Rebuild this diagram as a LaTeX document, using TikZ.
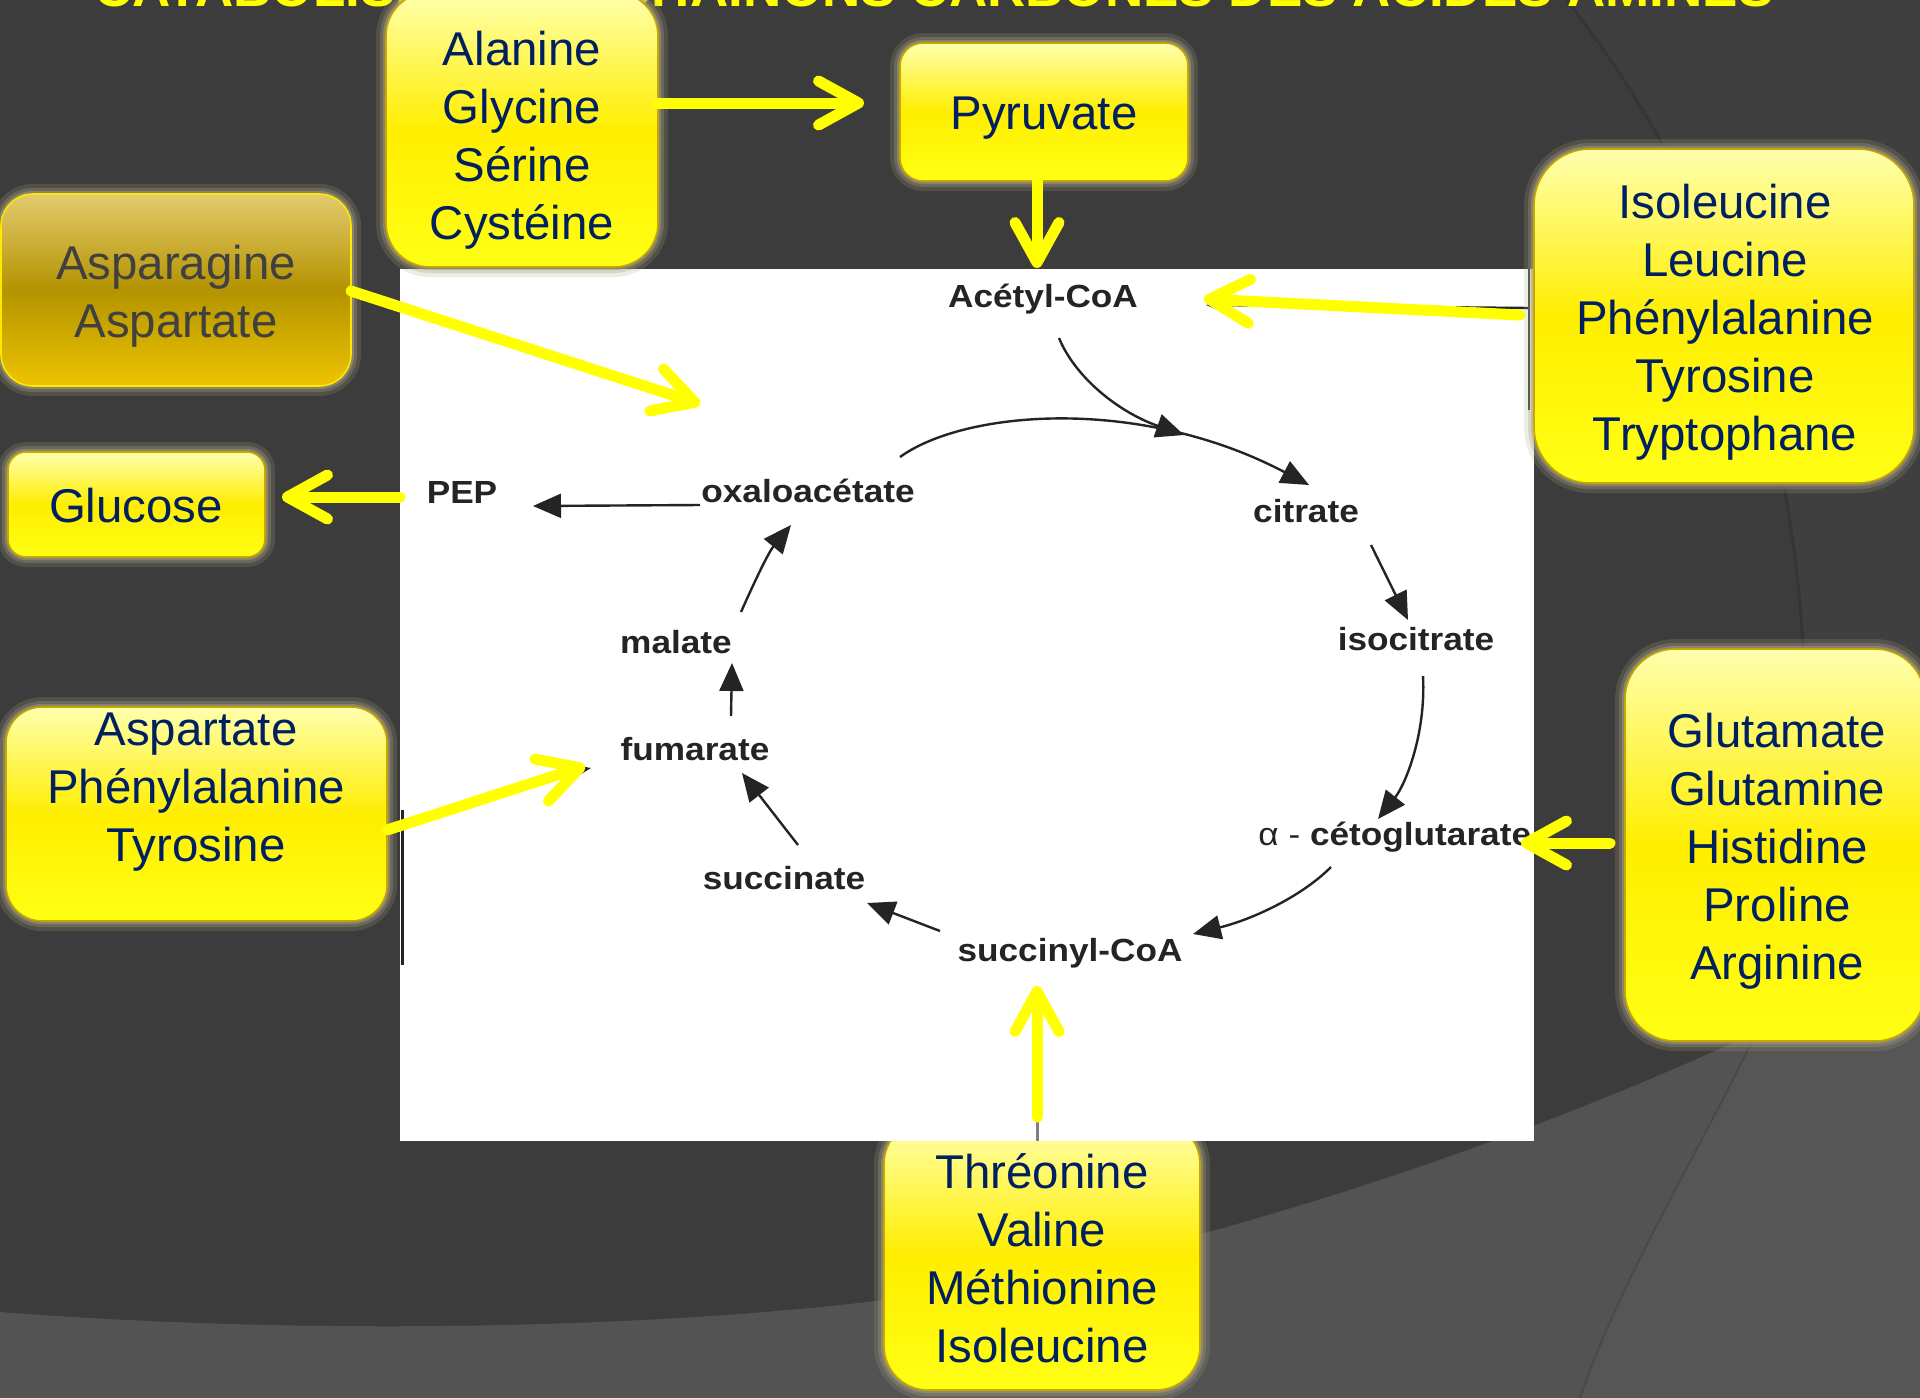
\documentclass[tikz,border=0pt]{standalone}
\usepackage{fontspec}
\setmainfont{Liberation Sans}
\newfontfamily\cycfont[FakeStretch=1.1]{Liberation Sans}
\usetikzlibrary{arrows.meta}
\definecolor{bgdark}{HTML}{3C3C3C}
\definecolor{bgright}{HTML}{3F3F3F}
\definecolor{bglight}{HTML}{535353}
\definecolor{bglight2}{HTML}{565656}
\definecolor{navy}{HTML}{002060}
\definecolor{ytop}{HTML}{FFFFAE}
\definecolor{ymid}{HTML}{FFEE00}
\definecolor{ybot}{HTML}{FFFF14}
\definecolor{yborder}{HTML}{C8A800}
\definecolor{gtop}{HTML}{E4CB6E}
\definecolor{gmid}{HTML}{B39300}
\definecolor{gbot}{HTML}{EEC400}
\definecolor{gborder}{HTML}{FFE800}
\definecolor{glowc}{HTML}{A8A080}
\definecolor{yel}{HTML}{FFFF00}
\definecolor{cycc}{HTML}{242424}
\definecolor{goldtext}{HTML}{404040}
\begin{document}
\begin{tikzpicture}[x=0.5pt,y=-0.5pt,
 glow/.style={preaction={draw=glowc,line width=10pt,opacity=0.2},preaction={draw=glowc,line width=6pt,opacity=0.3},preaction={draw=glowc,line width=3pt,opacity=0.5}},
 ybox/.style={rectangle,draw=yborder,line width=0.8pt,top color=ytop,bottom color=ybot,middle color=ymid,glow,inner sep=0pt},
 gbox/.style={rectangle,draw=gborder,line width=0.8pt,top color=gtop,bottom color=gbot,middle color=gmid,glow,inner sep=0pt},
 btext/.style={font=\fontsize{23.7}{29}\selectfont,text=navy,align=center,inner sep=0pt},
 cyc/.style={font=\cycfont\bfseries\fontsize{16}{19}\selectfont,text=cycc,inner sep=0pt,text height=11.5pt,text depth=3.2pt},
 carrow/.style={draw=cycc,line width=1.2pt,-{Triangle[length=14pt,width=12pt]}},
 yarrow/.style={draw=yel,line width=5.5pt,line cap=round,-{Straight Barb[length=20pt,width=22pt,round]}},
]
\useasboundingbox (0,0) rectangle (1920,1398);
\clip (0,0) rectangle (1920,1398);
% background
\fill[bgdark] (0,0) rectangle (1920,1398);
\fill[bgright] (1567,0) .. controls (1700,170) and (1800,400) .. (1805,700) -- (1920,700) -- (1920,0) -- cycle;
\draw[black,line width=1.5pt,opacity=0.12] (1567,0) .. controls (1700,170) and (1800,400) .. (1805,700);
\fill[bglight] (0,1312) .. controls (300,1335) and (650,1330) .. (900,1298) .. controls (1200,1255) and (1550,1130) .. (1760,1030) .. controls (1840,990) and (1900,900) .. (1920,860) -- (1920,1398) -- (0,1398) -- cycle;
\fill[bglight2] (1751,1043) .. controls (1700,1150) and (1620,1280) .. (1580,1398) -- (1920,1398) -- (1920,960) -- cycle;
\draw[black,line width=1pt,opacity=0.12] (1751,1043) .. controls (1700,1150) and (1620,1280) .. (1580,1398);
% title
\node[font=\bfseries\fontsize{26.5}{30}\selectfont,text=yel,anchor=base,inner sep=0pt] (title) at (934,6) {CATABOLISME DES CHAINONS CARBONES DES ACIDES AMINES};
% Threonine box (under the image)
\node[ybox,rounded corners=22pt,minimum width=158pt,minimum height=135pt] (bthr) at (1042,1255) {};
% image
\fill[white] (400,269) rectangle (1534,1141);
\begin{scope}
\clip (400,269) rectangle (1534,1141);
% artefacts of the scanned figure
\draw[cycc,line width=1.2pt] (1529,269) -- (1529,410);
\draw[cycc,line width=1.2pt,-{Triangle[length=9pt,width=7pt]}] (1529,308) -- (1206,305);
\draw[cycc,line width=1.5pt] (402,810) -- (402,965);
\draw[gray,line width=1.5pt] (1037,1117) -- (1037,1141);
\fill[cycc] (558,762) -- (591,768) -- (568,782) -- cycle;
% labels
\node[cyc] (acoa) at (1043,299) {Acétyl-CoA};
\node[cyc] (cit) at (1306,514) {citrate};
\node[cyc] (iso) at (1416,642) {isocitrate};
\node[cyc,anchor=west] (akg) at (1258,837) {{\mdseries α - }cétoglutarate};
\node[cyc] (scoa) at (1070,953) {succinyl-CoA};
\node[cyc] (succ) at (784,881) {succinate};
\node[cyc] (fum) at (695,752) {fumarate};
\node[cyc] (mal) at (676,645) {malate};
\node[cyc] (oaa) at (808,494) {oxaloacétate};
\node[cyc] (pep) at (462,495) {PEP};
% cycle arrows
\coordinate (c1s) at (900,457); \coordinate (c1e) at (1309,485);
\coordinate (c2s) at (1059,338); \coordinate (c2e) at (1184,435);
\coordinate (c3s) at (1371,545); \coordinate (c3e) at (1408,620);
\coordinate (c4s) at (1423,676); \coordinate (c4e) at (1378,819);
\coordinate (c5s) at (1331,867); \coordinate (c5e) at (1193,934);
\coordinate (c6s) at (940,931); \coordinate (c6e) at (867,903);
\coordinate (c7s) at (798,845); \coordinate (c7e) at (742,773);
\coordinate (c8s) at (731,716); \coordinate (c8e) at (732,663);
\coordinate (c9s) at (741,612); \coordinate (c9e) at (791,525);
\coordinate (c10s) at (700,505); \coordinate (c10e) at (533,506);
\draw[carrow] (c1s) .. controls (965,410) and (1140,396) .. (c1e);
\draw[carrow] (c2s) .. controls (1075,377) and (1118,412) .. (c2e);
\draw[carrow] (c3s) -- (c3e);
\draw[carrow] (c4s) .. controls (1426,735) and (1405,785) .. (c4e);
\draw[carrow] (c5s) .. controls (1300,898) and (1250,920) .. (c5e);
\draw[carrow] (c6s) -- (c6e);
\draw[carrow] (c7s) -- (c7e);
\draw[carrow] (c8s) -- (c8e);
\draw[carrow] (c9s) .. controls (753,585) and (768,553) .. (c9e);
\draw[carrow] (c10s) -- (c10e);
\end{scope}
% boxes
\node[ybox,rounded corners=22pt,minimum width=136pt,minimum height=137.5pt] (bala) at (522,129.5) {};
\node[ybox,rounded corners=11.5pt,minimum width=144pt,minimum height=69pt] (bpyr) at (1044,112) {};
\node[gbox,rounded corners=16pt,minimum width=175pt,minimum height=96pt] (basp) at (176,290) {};
\node[ybox,rounded corners=9pt,minimum width=128.5pt,minimum height=52.5pt] (bglc) at (136.5,504.5) {};
\node[ybox,rounded corners=18pt,minimum width=190.5pt,minimum height=107pt] (bapt) at (196.5,814) {};
\node[ybox,rounded corners=28pt,minimum width=190pt,minimum height=167pt] (biso) at (1724,316) {};
\node[ybox,rounded corners=25pt,minimum width=150pt,minimum height=196pt] (bglm) at (1775,845) {};
% box texts
\node[btext] (tala) at (522,140) {Alanine\\Glycine\\Sérine\\Cystéine};
\node[btext] (tpyr) at (1044,118) {Pyruvate};
\node[btext,text=goldtext] (tasp) at (176,296) {Asparagine\\Aspartate};
\node[btext] (tglc) at (136,506) {Glucose};
\node[btext] (tapt) at (196,792) {Aspartate\\Phénylalanine\\Tyrosine};
\node[btext] (tiso) at (1725,322) {Isoleucine\\Leucine\\Phénylalanine\\Tyrosine\\Tryptophane};
\node[btext] (tglm) at (1777,851) {Glutamate\\Glutamine\\Histidine\\Proline\\Arginine};
\node[btext] (tthr) at (1042,1258) {Thréonine\\Valine\\Méthionine\\Isoleucine};
% yellow arrows
\coordinate (y1s) at (658,103); \coordinate (y1e) at (864,103);
\coordinate (y2s) at (1037,181); \coordinate (y2e) at (1037,268);
\coordinate (y3s) at (351,291); \coordinate (y3e) at (700,404);
\coordinate (y4s) at (400,497); \coordinate (y4e) at (282,497);
\coordinate (y5s) at (1520,315); \coordinate (y5e) at (1204,299);
\coordinate (y6s) at (387,830); \coordinate (y6e) at (585,766);
\coordinate (y7s) at (1610,843); \coordinate (y7e) at (1521,843);
\coordinate (y8s) at (1037,1117); \coordinate (y8e) at (1037,986);
\draw[yarrow] (y1s) -- (y1e);
\draw[yarrow] (y2s) -- (y2e);
\draw[yarrow] (y3s) -- (y3e);
\draw[yarrow] (y4s) -- (y4e);
\draw[yarrow] (y5s) -- (y5e);
\draw[yarrow] (y6s) -- (y6e);
\draw[yarrow] (y7s) -- (y7e);
\draw[yarrow] (y8s) -- (y8e);
\end{tikzpicture}
\end{document}
